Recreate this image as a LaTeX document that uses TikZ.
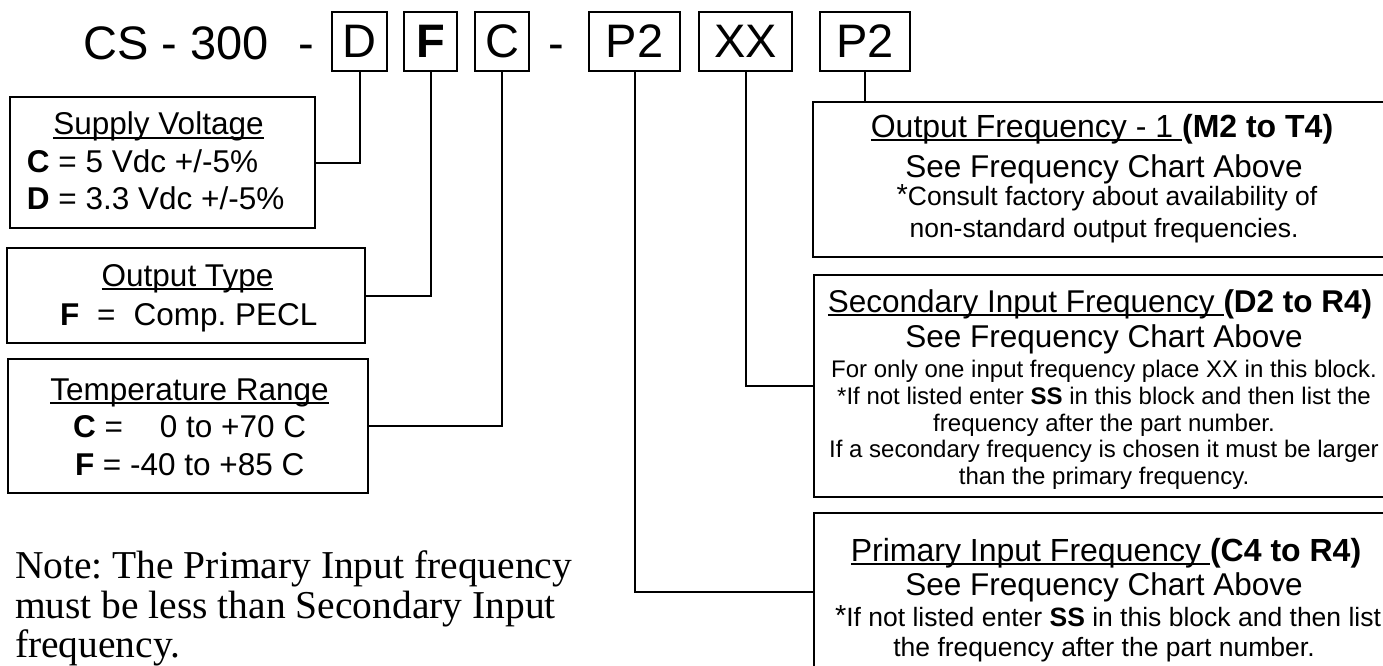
\documentclass[tikz,border=0pt]{standalone}
\usepackage{fontspec}
\setmainfont{Liberation Serif}
\newfontfamily\arial{Liberation Sans}
\newcommand\fs[1]{\fontsize{#1}{#1}\selectfont}
\newcommand\myul[1]{\setbox0\hbox{#1}\rlap{\rule[-4pt]{\wd0}{1.8pt}}\box0}
\frenchspacing
\begin{document}
\begin{tikzpicture}[x=1pt,y=-1pt,
  lbl/.style={inner sep=0pt, outer sep=0pt, anchor=base, font=\arial\fs{31.5}},
  sml/.style={inner sep=0pt, outer sep=0pt, anchor=base, font=\arial\fs{24}},
  mid/.style={inner sep=0pt, outer sep=0pt, anchor=base, font=\arial\fs{26.5}},
  codebox/.style={draw, line width=2pt, inner sep=0pt, outer sep=0pt, font=\arial\fs{47}, minimum height=59pt},
  desc/.style={draw, line width=2pt, inner sep=0pt, outer sep=0pt},
  wire/.style={line width=2pt},
  notetxt/.style={inner sep=0pt, outer sep=0pt, anchor=base west, font=\fs{39.5}}]
\useasboundingbox (0,0) rectangle (1383,666);
\clip (0,0) rectangle (1383,666);
\fill[white] (0,0) rectangle (1383,666);

% title
\node[inner sep=0pt, anchor=base west, font=\arial\fs{47}] (cs) at (83,60) {CS - 300};
\node[inner sep=0pt, anchor=base, font=\arial\fs{47}] (dash1) at (306,60) {-};
\node[inner sep=0pt, anchor=base, font=\arial\fs{47}] (dash2) at (556,60) {-};
\node[codebox, minimum width=55pt] (bD) at (359.5,41.5) {D};
\node[codebox, minimum width=53pt] (bF) at (430.5,41.5) {\textbf{F}};
\node[codebox, minimum width=54pt] (bC) at (502,41.5) {C};
\node[codebox, minimum width=91pt] (bP) at (634.5,41.5) {P2};
\node[codebox, minimum width=93pt] (bX) at (745.5,41.5) {XX};
\node[codebox, minimum width=90pt] (bQ) at (865,41.5) {P2};

% description boxes
\node[desc, minimum width=305pt, minimum height=131pt] (sup) at (162.5,162.5) {};
\node[desc, minimum width=358pt, minimum height=95pt] (otype) at (186,295.5) {};
\node[desc, minimum width=360pt, minimum height=134pt] (temp) at (188,426) {};
\node[desc, minimum width=581pt, minimum height=155pt] (ofreq) at (1103.5,179.5) {};
\node[desc, minimum width=580pt, minimum height=222pt] (sec) at (1104,386) {};
\node[desc, minimum width=580pt, minimum height=158pt] (prim) at (1104,592) {};

% connectors
\draw[wire] (bD.south) |- (sup.east);
\draw[wire] (bF.south) |- (otype.east);
\draw[wire] (bC.south) |- (temp.east);
\draw[wire] (bP.south) |- (prim.west);
\draw[wire] (bX.south) |- (sec.west);
\draw[wire] (bQ.south) -- (bQ.south |- ofreq.north);

% supply voltage
\node[lbl] (t1) at (158.5,135) {\myul{Supply Voltage}};
\node[lbl, anchor=base west] (t2) at (27,172) {\textbf{C} = 5 Vdc +/-5\%};
\node[lbl, anchor=base west] (t3) at (27,209) {\textbf{D} = 3.3 Vdc +/-5\%};

% output type
\node[lbl] (t4) at (187.5,286) {\myul{Output Type}};
\node[lbl, anchor=base west] (t5) at (60,325) {\textbf{F}\hspace{18pt}=\hspace{18pt}Comp. PECL};

% temperature
\node[lbl] (t6) at (189.5,400) {\myul{Temperature Range}};
\node[lbl, anchor=base west] (t7) at (73,437) {\textbf{C} =\hspace{37pt}0 to +70 C};
\node[lbl, anchor=base west] (t8) at (75,475) {\textbf{F} = -40 to +85 C};

% output frequency
\node[lbl, font=\arial\fs{32}] (o1) at (1102,137) {\myul{Output Frequency - 1 }\textbf{(M2 to T4)}};
\node[lbl] (o2) at (1104,177) {See Frequency Chart Above};
\node[mid] (o3) at (1107,205) {\raisebox{1pt}{\fs{29}*}Consult factory about availability of};
\node[mid] (o4) at (1104,237) {non-standard output frequencies.};

% secondary
\node[lbl] (s1) at (1100,312) {\myul{Secondary Input Frequency }\textbf{(D2 to R4)}};
\node[lbl] (s2) at (1104,347) {See Frequency Chart Above};
\node[sml] (s3) at (1104,377) {For only one input frequency place XX in this block.};
\node[sml] (s4) at (1104,404) {*If not listed enter \textbf{SS} in this block and then list the};
\node[sml] (s5) at (1104,431) {frequency after the part number.};
\node[sml] (s6) at (1104,457) {If a secondary frequency is chosen it must be larger};
\node[sml] (s7) at (1104,484) {than the primary frequency.};

% primary
\node[lbl, font=\arial\fs{32}] (p1) at (1106,561) {\myul{Primary Input Frequency }\textbf{(C4 to R4)}};
\node[lbl] (p2) at (1104,595) {See Frequency Chart Above};
\node[mid] (p3) at (1108,626) {\raisebox{1pt}{\fs{29}*}If not listed enter \textbf{SS} in this block and then list};
\node[mid] (p4) at (1104,656) {the frequency after the part number.};

% note
\node[notetxt] (n1) at (15,578) {Note: The Primary Input frequency};
\node[notetxt] (n2) at (15,618) {must be less than Secondary Input};
\node[notetxt] (n3) at (15,657) {frequency.};
\end{tikzpicture}
\end{document}
